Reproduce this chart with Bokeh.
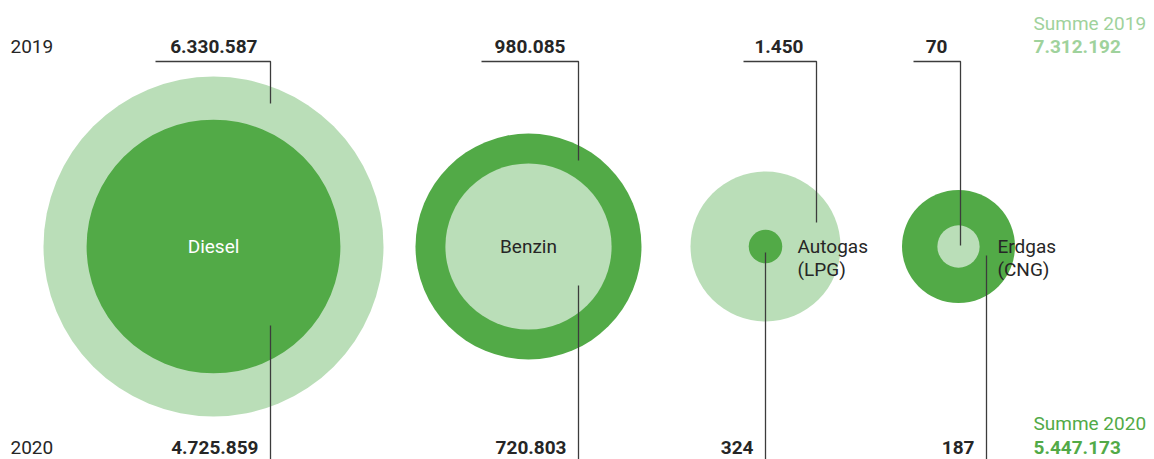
from bokeh.plotting import figure
from bokeh.models import Range1d
from bokeh.embed import file_html
from bokeh.resources import INLINE
from bokeh.core.properties import value

# ---- data ----
categories = ["Diesel", "Benzin", "Autogas\n(LPG)", "Erdgas\n(CNG)"]
values_2019 = [6330587, 980085, 1450, 70]
values_2020 = [4725859, 720803, 324, 187]
year_labels = ["2019", "2020"]
sum_labels = ["Summe 2019", "Summe 2020"]

def fmt(v):
    return f"{v:,}".replace(",", ".")

# ---- style / layout ----
LIGHT = "#badeb8"
DARK = "#52aa47"
TXT = "#262626"
LINE = "#3c3c3c"
FONT = "Roboto"
DY = -7  # baseline correction
cx = [213, 528, 765, 958]
cy = 246
outer_r = [170, 113, 75, 56.5]
outer_col = [LIGHT, DARK, LIGHT, DARK]
inner_col = [DARK, LIGHT, DARK, LIGHT]
top_dx = [57, 50, 51, 2]
top_end = [103, 160, 222, 245]
top_left = [155, 481, 743, 913]
bot_dx = [57, 50, 0, 28]
bot_start = [325, 285, 252, 255]
label_inside = [True, True, False, False]

W, H = 1154, 459
p = figure(width=W, height=H, x_range=Range1d(0, W), y_range=Range1d(H, 0),
           output_backend="svg", toolbar_location=None, min_border=0)
p.axis.visible = False
p.grid.visible = False
p.outline_line_color = None


def txt(x, y, s, size="19px", bold=False, color=TXT, align="left"):
    p.text(x=[x], y=[y + DY], text=[s], text_align=align, text_baseline="alphabetic",
           text_font=value(FONT), text_font_style="bold" if bold else "normal",
           text_font_size=size, text_color=color)


for i, cat in enumerate(categories):
    v19, v20 = values_2019[i], values_2020[i]
    big, small = max(v19, v20), min(v19, v20)
    r_out = outer_r[i]
    r_in = r_out * small / big
    p.circle(x=[cx[i]], y=[cy], radius=r_out, fill_color=outer_col[i], line_color=None)
    p.circle(x=[cx[i]], y=[cy], radius=r_in, fill_color=inner_col[i], line_color=None)

    tx = cx[i] + top_dx[i]
    p.line(x=[top_left[i], tx, tx], y=[61, 61, top_end[i]], line_color=LINE, line_width=1.3)
    bx = cx[i] + bot_dx[i]
    p.line(x=[bx, bx], y=[bot_start[i], 465], line_color=LINE, line_width=1.3)

    txt(tx - 13, 53, fmt(v19), bold=True, align="right")
    txt(bx - 12, 454, fmt(v20), bold=True, align="right")

    if label_inside[i]:
        txt(cx[i], 253, cat, size="19px", align="center",
            color="white" if inner_col[i] == DARK else TXT)
    else:
        for k, ln in enumerate(cat.split("\n")):
            txt(cx[i] + (32 if i == 2 else 39), 253 + 23 * k, ln, size="19px")

txt(10, 53, year_labels[0])
txt(10, 454, year_labels[1])

txt(1033, 30, sum_labels[0], size="19px", color="#9fd29c")
txt(1033, 53, fmt(sum(values_2019)), bold=True, color="#9fd29c")
txt(1033, 430, sum_labels[1], size="19px", color=DARK)
txt(1033, 454, fmt(sum(values_2020)), bold=True, color=DARK)

open("out.html", "w").write(file_html(p, INLINE))
